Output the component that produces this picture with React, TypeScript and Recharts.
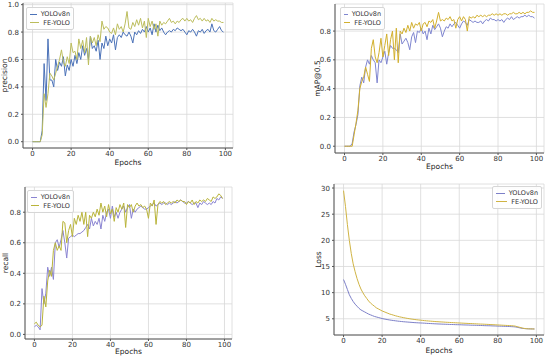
import { CartesianGrid, Line, LineChart, XAxis, YAxis } from "recharts";

const epochs = Array.from({ length: 100 }, (_, i) => i);

const precisionYolo = [
  0, 0, 0, 0, 0, 0.08, 0.57, 0.3, 0.75, 0.45,
  0.45, 0.4, 0.6, 0.52, 0.58, 0.55, 0.62, 0.48, 0.56, 0.52,
  0.6, 0.55, 0.63, 0.57, 0.65, 0.6, 0.7, 0.63, 0.68, 0.6,
  0.77, 0.68, 0.7, 0.66, 0.74, 0.6, 0.72, 0.68, 0.77, 0.7,
  0.75, 0.72, 0.78, 0.67, 0.76, 0.78, 0.76, 0.8, 0.78, 0.77,
  0.8, 0.77, 0.72, 0.8, 0.78, 0.81, 0.79, 0.82, 0.8, 0.84,
  0.8, 0.83, 0.78, 0.86, 0.8, 0.85, 0.81, 0.83, 0.8, 0.78,
  0.8, 0.81, 0.8, 0.82, 0.81, 0.83, 0.82, 0.81, 0.82, 0.8,
  0.78, 0.81, 0.8, 0.82, 0.8, 0.77, 0.81, 0.8, 0.82, 0.79,
  0.81, 0.82, 0.8, 0.86, 0.81, 0.8, 0.82, 0.84, 0.81, 0.8,
];
const precisionFe = [
  0, 0, 0, 0, 0, 0.05, 0.35, 0.25, 0.35, 0.5,
  0.48, 0.45, 0.5, 0.55, 0.6, 0.67, 0.58, 0.55, 0.62, 0.57,
  0.72, 0.65, 0.66, 0.6, 0.75, 0.68, 0.74, 0.65, 0.76, 0.56,
  0.77, 0.72, 0.76, 0.7, 0.78, 0.73, 0.88, 0.82, 0.84, 0.83,
  0.8, 0.79, 0.83, 0.78, 0.86, 0.82, 0.84, 0.8, 0.86, 0.95,
  0.83, 0.82, 0.87, 0.84, 0.89, 0.85, 0.9, 0.83, 0.88, 0.76,
  0.9, 0.84, 0.88, 0.82, 0.86, 0.77, 0.88, 0.85, 0.87, 0.86,
  0.88, 0.9, 0.87, 0.88, 0.86, 0.88, 0.87, 0.89, 0.9, 0.88,
  0.9, 0.88, 0.89, 0.87, 0.9, 0.92, 0.89, 0.9, 0.88, 0.9,
  0.88, 0.89, 0.87, 0.9, 0.88, 0.89, 0.88, 0.88, 0.87, 0.87,
];

const mapYolo = [
  0, 0, 0, 0, 0.02, 0.1, 0.15, 0.22, 0.42, 0.48,
  0.44, 0.55, 0.6, 0.57, 0.63, 0.6, 0.58, 0.44, 0.6, 0.58,
  0.62, 0.66, 0.57, 0.65, 0.7, 0.68, 0.68, 0.67, 0.65, 0.78,
  0.71, 0.73, 0.75, 0.72, 0.67, 0.76, 0.79, 0.72, 0.8, 0.79,
  0.82, 0.78, 0.8, 0.74, 0.82, 0.78, 0.84, 0.81, 0.83, 0.85,
  0.82, 0.76, 0.8, 0.83, 0.82, 0.85, 0.83, 0.85, 0.86, 0.84,
  0.82, 0.85, 0.87, 0.86, 0.84, 0.88, 0.87, 0.86, 0.87, 0.86,
  0.86, 0.87, 0.85, 0.87, 0.88, 0.87, 0.89, 0.88, 0.88, 0.87,
  0.88, 0.87, 0.88, 0.86, 0.88, 0.89, 0.88, 0.9, 0.88, 0.89,
  0.9, 0.89, 0.9, 0.9, 0.91, 0.9, 0.91, 0.9, 0.9, 0.89,
];
const mapFe = [
  0, 0, 0, 0, 0, 0.08, 0.16, 0.25, 0.4, 0.45,
  0.48, 0.55, 0.5, 0.45, 0.68, 0.74, 0.62, 0.58, 0.65, 0.75,
  0.62, 0.7, 0.78, 0.63, 0.74, 0.8, 0.6, 0.82, 0.58, 0.8,
  0.78, 0.82, 0.79, 0.84, 0.8, 0.86, 0.82, 0.85, 0.84, 0.86,
  0.8, 0.85, 0.86, 0.83, 0.87, 0.86, 0.88, 0.82, 0.87, 0.93,
  0.87, 0.88, 0.87, 0.89, 0.88, 0.9, 0.87, 0.88, 0.82, 0.88,
  0.9, 0.87, 0.9, 0.88, 0.8, 0.9, 0.89, 0.9, 0.89, 0.91,
  0.9, 0.91, 0.9, 0.91, 0.9, 0.91, 0.91, 0.92, 0.91, 0.92,
  0.91, 0.92, 0.91, 0.92, 0.92, 0.91, 0.92, 0.92, 0.93, 0.92,
  0.92, 0.93, 0.92, 0.93, 0.92, 0.93, 0.93, 0.94, 0.93, 0.93,
];

const recallYolo = [
  0.05, 0.06, 0.05, 0.03, 0.3, 0.2, 0.27, 0.44, 0.38, 0.44,
  0.36, 0.6, 0.62, 0.57, 0.62, 0.68, 0.6, 0.5, 0.63, 0.64,
  0.65, 0.64, 0.65, 0.66, 0.66, 0.67, 0.68, 0.7, 0.72, 0.69,
  0.76, 0.71, 0.74, 0.72, 0.76, 0.69, 0.78, 0.74, 0.8, 0.82,
  0.76, 0.84, 0.77, 0.8, 0.76, 0.8, 0.82, 0.84, 0.8, 0.83,
  0.85, 0.76, 0.82, 0.8, 0.82, 0.83, 0.84, 0.83, 0.82, 0.82,
  0.83, 0.84, 0.85, 0.86, 0.84, 0.85, 0.86, 0.85, 0.86, 0.86,
  0.85, 0.86, 0.85, 0.86, 0.87, 0.86, 0.87, 0.88, 0.87, 0.86,
  0.86, 0.87, 0.86, 0.85, 0.86, 0.86, 0.83, 0.86, 0.85, 0.87,
  0.86, 0.85, 0.86, 0.85, 0.87, 0.86, 0.89, 0.88, 0.9, 0.89,
];
const recallFe = [
  0.07, 0.08, 0.06, 0.05, 0.06, 0.25, 0.18, 0.35, 0.42, 0.38,
  0.55, 0.6, 0.55, 0.58, 0.55, 0.74, 0.73, 0.6, 0.68, 0.72,
  0.64, 0.76, 0.72, 0.78, 0.74, 0.8, 0.72, 0.8, 0.64, 0.78,
  0.76, 0.8, 0.77, 0.82, 0.78, 0.86, 0.8, 0.84, 0.77, 0.85,
  0.79, 0.82, 0.74, 0.83, 0.8, 0.85, 0.82, 0.86, 0.7, 0.85,
  0.83, 0.85, 0.8, 0.84, 0.86, 0.84, 0.85, 0.83, 0.84, 0.82,
  0.76, 0.86, 0.84, 0.88, 0.72, 0.85, 0.87, 0.86, 0.87, 0.85,
  0.86, 0.87, 0.86, 0.87, 0.86, 0.88, 0.87, 0.88, 0.87, 0.87,
  0.85, 0.87, 0.86, 0.88, 0.85, 0.87, 0.86, 0.88, 0.87, 0.88,
  0.87, 0.89, 0.88, 0.87, 0.9, 0.89, 0.9, 0.92, 0.91, 0.89,
];

const lossYolo = [
  12.5, 11.6, 10.6, 9.6, 8.9, 8.3, 7.8, 7.4, 7.0, 6.7,
  6.5, 6.3, 6.1, 5.9, 5.75, 5.6, 5.45, 5.35, 5.25, 5.15,
  5.05, 4.97, 4.9, 4.83, 4.77, 4.71, 4.66, 4.61, 4.56, 4.52,
  4.48, 4.44, 4.41, 4.38, 4.35, 4.32, 4.29, 4.26, 4.24, 4.22,
  4.2, 4.18, 4.16, 4.13, 4.11, 4.09, 4.07, 4.05, 4.03, 4.01,
  4.0, 3.98, 3.97, 3.95, 3.94, 3.92, 3.91, 3.9, 3.88, 3.87,
  3.86, 3.85, 3.83, 3.82, 3.81, 3.8, 3.78, 3.77, 3.76, 3.75,
  3.73, 3.72, 3.71, 3.69, 3.68, 3.67, 3.66, 3.64, 3.63, 3.62,
  3.6, 3.59, 3.58, 3.56, 3.55, 3.53, 3.52, 3.5, 3.48, 3.45,
  3.38, 3.3, 3.22, 3.16, 3.12, 3.1, 3.08, 3.07, 3.06, 3.05,
];
const lossFe = [
  29.5, 26.5, 23.0, 20.0, 17.5, 15.5, 14.0, 12.7, 11.6, 10.7,
  10.0, 9.4, 8.9, 8.4, 8.0, 7.7, 7.4, 7.1, 6.9, 6.7,
  6.5, 6.35, 6.2, 6.05, 5.9, 5.8, 5.68, 5.57, 5.47, 5.38,
  5.3, 5.22, 5.15, 5.08, 5.02, 4.96, 4.91, 4.86, 4.81, 4.77,
  4.73, 4.69, 4.65, 4.61, 4.58, 4.55, 4.52, 4.49, 4.46, 4.44,
  4.41, 4.39, 4.37, 4.34, 4.32, 4.3, 4.28, 4.26, 4.24, 4.22,
  4.2, 4.18, 4.16, 4.14, 4.12, 4.1, 4.09, 4.07, 4.05, 4.03,
  4.01, 3.99, 3.98, 3.96, 3.94, 3.92, 3.9, 3.88, 3.86, 3.84,
  3.82, 3.8, 3.78, 3.76, 3.74, 3.72, 3.7, 3.68, 3.65, 3.6,
  3.5, 3.4, 3.3, 3.2, 3.14, 3.1, 3.08, 3.07, 3.06, 3.05,
];

const seriesNames = ["YOLOv8n", "FE-YOLO"];
const epochTicks = [0, 20, 40, 60, 80, 100];
const scoreTicks = [0, 0.2, 0.4, 0.6, 0.8];
const precisionTicks = [0, 0.2, 0.4, 0.6, 0.8, 1.0];
const lossTicks = [5, 10, 15, 20, 25, 30];

const FONT = "'DejaVu Sans', sans-serif";
const AXIS_W = 40;
const AXIS_H = 30;
const PAD = 5;

const toRows = (a: number[], b: number[]) =>
  epochs.map((epoch, i) => ({ epoch, a: a[i], b: b[i] }));

const panels = [
  {
    key: "precision",
    label: "precision",
    frame: { x0: 23, y0: 3, x1: 233, y1: 148 },
    yDomain: [-0.046, 1.012],
    yTicks: precisionTicks,
    fmt: (v: number) => v.toFixed(1),
    data: toRows(precisionYolo, precisionFe),
    colors: ["#4b72b8", "#bcbd5c"],
    legend: { left: 26, top: 7, width: 48 },
    ldx: 1,
    ldy: -1,
  },
  {
    key: "map",
    label: "mAP@0.5",
    frame: { x0: 335, y0: 4, x1: 544, y1: 153 },
    yDomain: [-0.047, 0.988],
    yTicks: scoreTicks,
    fmt: (v: number) => v.toFixed(1),
    data: toRows(mapYolo, mapFe),
    colors: ["#7f86d0", "#d2b02e"],
    legend: { left: 340, top: 7, width: 45 },
    ldx: 2,
    ldy: -2,
  },
  {
    key: "recall",
    label: "recall",
    frame: { x0: 25, y0: 187, x1: 232, y1: 339 },
    yDomain: [-0.03, 0.965],
    yTicks: scoreTicks,
    fmt: (v: number) => v.toFixed(1),
    data: toRows(recallYolo, recallFe),
    colors: ["#8a84d2", "#b9b43a"],
    legend: { left: 27, top: 190, width: 47 },
    ldx: 0,
    ldy: -3,
  },
  {
    key: "loss",
    label: "Loss",
    frame: { x0: 334, y0: 184, x1: 544, y1: 335 },
    yDomain: [1.9, 30.77],
    yTicks: lossTicks,
    fmt: (v: number) => String(v),
    data: toRows(lossYolo, lossFe),
    colors: ["#7d80c8", "#d0b444"],
    legend: { left: 492, top: 186, width: 50 },
    ldx: 4,
    ldy: 0,
  },
];

type PanelCfg = (typeof panels)[number];

const tickStyle = { fontSize: 7, fill: "#333", fontFamily: FONT };
const labelStyle = { fontSize: 7.5, fill: "#222", fontFamily: FONT };

const LegendBox = ({ cfg }: { cfg: PanelCfg }) => (
  <div
    style={{
      position: "absolute",
      left: cfg.legend.left,
      top: cfg.legend.top,
      width: cfg.legend.width,
      padding: "2px 3px",
      boxSizing: "border-box",
      background: "rgba(255,255,255,0.85)",
      border: "1px solid #d6d6d6",
      borderRadius: 2,
      fontFamily: FONT,
      fontSize: 6.5,
      color: "#333",
      lineHeight: "8.5px",
    }}
  >
    {seriesNames.map((name, i) => (
      <div key={name} style={{ display: "flex", alignItems: "center", whiteSpace: "nowrap" }}>
        <span
          style={{
            display: "inline-block",
            width: 13,
            height: 1,
            background: cfg.colors[i],
            marginRight: 4,
          }}
        />
        {name}
      </div>
    ))}
  </div>
);

const Panel = ({ cfg }: { cfg: PanelCfg }) => {
  const { x0, y0, x1, y1 } = cfg.frame;
  const w = x1 - x0;
  const h = y1 - y0;
  return (
    <>
      <div style={{ position: "absolute", left: x0 - AXIS_W, top: y0 - PAD }}>
        <LineChart
          width={w + AXIS_W + PAD}
          height={h + PAD + AXIS_H}
          data={cfg.data}
          margin={{ top: PAD, right: PAD, left: 0, bottom: 0 }}
        >
          <CartesianGrid stroke="#d8d8d8" strokeWidth={0.8} />
          <XAxis
            dataKey="epoch"
            type="number"
            domain={[-4.95, 103.95]}
            allowDataOverflow
            ticks={epochTicks}
            height={AXIS_H}
            stroke="#555"
            tickSize={2}
            tickMargin={1}
            tick={tickStyle}
            label={{ value: "Epochs", position: "center", dy: cfg.ldy, style: labelStyle }}
          />
          <XAxis
            xAxisId="top"
            orientation="top"
            dataKey="epoch"
            type="number"
            domain={[-4.95, 103.95]}
            allowDataOverflow
            height={0}
            tick={false}
            tickLine={false}
            stroke="#555"
          />
          <YAxis
            type="number"
            domain={cfg.yDomain}
            allowDataOverflow
            ticks={cfg.yTicks}
            width={AXIS_W}
            stroke="#555"
            tickSize={2}
            tickMargin={2}
            tick={tickStyle}
            tickFormatter={cfg.fmt}
            label={{ value: cfg.label, angle: -90, position: "center", dx: cfg.ldx, style: labelStyle }}
          />
          <YAxis
            yAxisId="right"
            orientation="right"
            type="number"
            domain={cfg.yDomain}
            allowDataOverflow
            width={0}
            tick={false}
            tickLine={false}
            stroke="#555"
          />
          <Line
            dataKey="a"
            name={seriesNames[0]}
            stroke={cfg.colors[0]}
            strokeWidth={1}
            dot={false}
            isAnimationActive={false}
          />
          <Line
            dataKey="b"
            name={seriesNames[1]}
            stroke={cfg.colors[1]}
            strokeWidth={1}
            dot={false}
            isAnimationActive={false}
          />
        </LineChart>
      </div>
      <LegendBox cfg={cfg} />
    </>
  );
};

export default function App() {
  return (
    <div
      style={{
        position: "absolute",
        left: 0,
        top: 0,
        width: 550,
        height: 358,
        overflow: "hidden",
        background: "#fff",
      }}
    >
      {panels.map((cfg) => (
        <Panel key={cfg.key} cfg={cfg} />
      ))}
    </div>
  );
}
